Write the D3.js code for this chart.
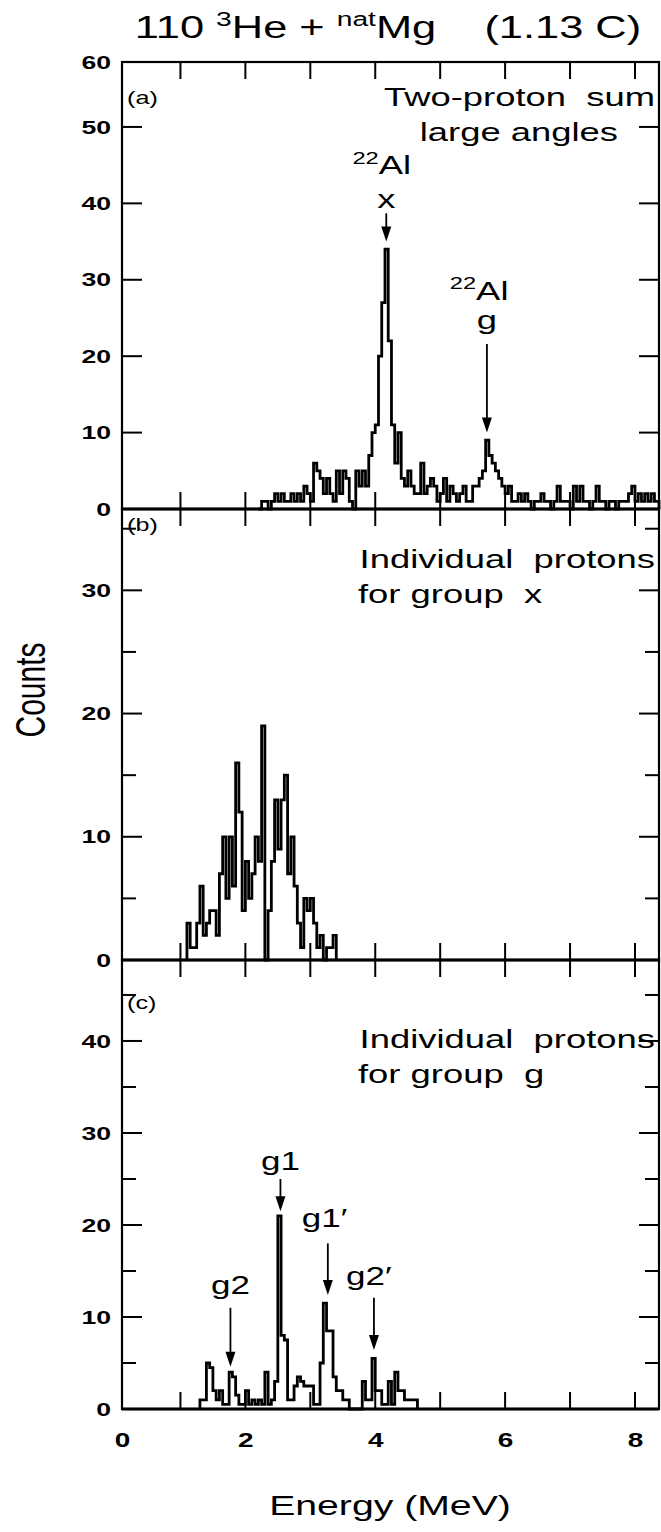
<!DOCTYPE html>
<html>
<head>
<meta charset="utf-8">
<script src="https://cdn.jsdelivr.net/npm/d3@7"></script>
<style>
  body { margin: 0; background: #fff; }
  text { font-family: "Liberation Sans", Arial, sans-serif; fill: #000; }
</style>
</head>
<body>
<svg id="chart" width="661" height="1532"></svg>
<script>
// ---- data (counts per 0.05 MeV bin) ----
const binWidth = 0.05;

// (a) two-proton sum, large angles
const sumStart = 2.20;
const sumCounts = [0,1,1,0,1,2,1,2,1,1, 2,1,2,1,3,2,1,6,5,4,
                   2,4,2,1,5,2,5,4,1,0, 5,3,5,3,7,10,11,20,27,34,
                   22,11,6,10,4,3,5,3,2,2, 6,2,3,4,3,1,2,4,1,3,
                   2,1,2,3,1,1,3,3,4,5, 9,7,6,5,4,3,2,3,1,1,
                   2,1,2,1,0,1,1,2,1,1, 0,1,3,1,1,1,0,3,1,3,
                   1,1,0,1,3,1,1,0,1,1, 0,1,1,1,2,3,1,2,1,2,
                   1,2,1,1];

// (b) individual protons for group x
const groupXStart = 1.10;
const groupXCounts = [3,1,1,3,6,2,3,4,4,2, 7,10,5,10,6,16,12,4,8,5,
                      7,10,8,19,0,4,8,13,9,13, 15,7,10,6,3,1,5,4,5,3,
                      1,2,0,1,1,2];

// (c) individual protons for group g
const groupGStart = 1.30;
const groupGCounts = [1,1,5,4.5,2,1,2,0.5,0.5,4, 3.5,1.5,0.5,0.5,2,0.5,1,0.5,1,0.5,
                      4,0.5,1,3,21,8,7.5,1,1,2.5, 3.5,3,2.5,2.5,2.5,0.5,0.5,5,11.5,8.5,
                      8.5,3.5,2,2,1,1,0,0,0,0, 3,1,1,5.5,2,2,0.5,0.5,3,0.5,
                      4,2,2,1,1,1,1];

const energyRange = [0.1, 8.37];
const energyTicks = [1, 2, 3, 4, 5, 6, 7, 8];
const energyLabels = [0, 2, 4, 6, 8];

// ---- layout ----
const frameLeft = 122, frameRight = 659;
const textStretch = 1.4;   // the scanned figure is wider than tall

const panels = [
  {id: "a", top: 62, bottom: 509, yMax: 58.5, labels: [0, 10, 20, 30, 40, 50], topLabel: "60",
   major: [10, 20, 30, 40, 50], minor: [], start: sumStart, counts: sumCounts},
  {id: "b", top: 509, bottom: 960, yMax: 36.6, labels: [0, 10, 20, 30], topLabel: null,
   major: [10, 20, 30], minor: [5, 15, 25, 35], start: groupXStart, counts: groupXCounts},
  {id: "c", top: 960, bottom: 1409, yMax: 48.8, labels: [0, 10, 20, 30, 40], topLabel: null,
   major: [10, 20, 30, 40], minor: [5, 15, 25, 35, 45], start: groupGStart, counts: groupGCounts}
];

const svg = d3.select("#chart");
const x = d3.scaleLinear().domain(energyRange).range([frameLeft, frameRight]).clamp(true);

// text widened like the original print
function stretchedText(parent, px, py, anchor, size, parts, weight) {
  const t = parent.append("g")
      .attr("transform", `translate(${px},${py}) scale(${textStretch},1)`)
    .append("text")
      .attr("text-anchor", anchor)
      .attr("font-size", size)
      .attr("font-weight", weight || "normal")
      .style("white-space", "pre");
  let shift = 0;
  parts.forEach(part => {
    const s = typeof part === "string" ? part : part.sup;
    const want = typeof part === "string" ? 0 : -size * 0.4;
    t.append("tspan")
      .attr("dy", want - shift)
      .attr("font-size", typeof part === "string" ? size : size * 0.65)
      .text(s);
    shift = want;
  });
  return t;
}

function arrow(parent, ax, y1, y2) {
  const head = 15, half = 5;
  parent.append("line")
    .attr("x1", ax).attr("x2", ax).attr("y1", y1).attr("y2", y2 - head + 2)
    .attr("stroke", "#000").attr("stroke-width", 1.8);
  parent.append("path")
    .attr("d", `M${ax - half},${y2 - head} L${ax + half},${y2 - head} L${ax},${y2} Z`)
    .attr("fill", "#000");
}

// inward tick marks drawn as plain lines
function tickLines(parent, data, attrs) {
  parent.append("g").selectAll("line").data(data).join("line")
    .attr("x1", attrs.x1).attr("x2", attrs.x2)
    .attr("y1", attrs.y1).attr("y2", attrs.y2)
    .attr("stroke", "#000").attr("stroke-width", 2);
}

panels.forEach(p => {
  const y = d3.scaleLinear().domain([0, p.yMax]).range([p.bottom, p.top]);
  p.y = y;
  const g = svg.append("g").attr("id", "panel-" + p.id);

  // energy ticks on top and bottom edges
  tickLines(g, energyTicks, {x1: d => x(d), x2: d => x(d), y1: p.top, y2: p.top + 17});
  tickLines(g, energyTicks, {x1: d => x(d), x2: d => x(d), y1: p.bottom, y2: p.bottom - 17});

  // count ticks, left and right
  tickLines(g, p.major, {x1: frameLeft, x2: frameLeft + 20, y1: d => y(d), y2: d => y(d)});
  tickLines(g, p.major, {x1: frameRight, x2: frameRight - 20, y1: d => y(d), y2: d => y(d)});
  tickLines(g, p.minor, {x1: frameLeft, x2: frameLeft + 14, y1: d => y(d), y2: d => y(d)});
  tickLines(g, p.minor, {x1: frameRight, x2: frameRight - 14, y1: d => y(d), y2: d => y(d)});

  // count labels
  const labelVals = p.topLabel ? p.labels.concat([p.yMax]) : p.labels;
  const ly = g.append("g").attr("transform", `translate(${frameLeft},0)`)
    .call(d3.axisLeft(y).tickValues(labelVals).tickSize(0).tickPadding(0)
      .tickFormat(d => d === p.yMax ? p.topLabel : d));
  ly.select(".domain").remove();
  ly.selectAll("text")
    .attr("x", -11 / textStretch)
    .attr("transform", `scale(${textStretch},1)`)
    .attr("font-size", 19).attr("font-weight", "bold")
    .attr("font-family", "'Liberation Sans', Arial, sans-serif");

  // histogram
  const pts = [[p.start, 0]]
    .concat(p.counts.map((c, i) => [p.start + i * binWidth, c]))
    .concat([[p.start + p.counts.length * binWidth, 0]]);
  const line = d3.line().x(d => x(d[0])).y(d => y(d[1])).curve(d3.curveStepAfter);
  g.append("path").attr("d", line(pts))
    .attr("fill", "none").attr("stroke", "#000")
    .attr("stroke-width", 2.8).attr("stroke-linejoin", "miter");

  // zero line
  g.append("line")
    .attr("x1", frameLeft).attr("x2", frameRight)
    .attr("y1", y(0)).attr("y2", y(0))
    .attr("stroke", "#000").attr("stroke-width", 3);

  // frame
  g.append("rect")
    .attr("x", frameLeft).attr("y", p.top)
    .attr("width", frameRight - frameLeft).attr("height", p.bottom - p.top)
    .attr("fill", "none").attr("stroke", "#000").attr("stroke-width", 2.2);
});

// energy labels under the bottom panel
const last = panels[2];
const xl = svg.append("g").attr("transform", `translate(0,${last.bottom})`)
  .call(d3.axisBottom(x).tickValues(energyLabels).tickSize(0).tickPadding(0));
xl.select(".domain").remove();
xl.selectAll(".tick text")
  .attr("y", 38).attr("dy", 0)
  .attr("transform", `scale(${textStretch},1)`)
  .attr("font-size", 20).attr("font-weight", "bold")
  .attr("font-family", "'Liberation Sans', Arial, sans-serif");

// titles
stretchedText(svg, 388, 38, "middle", 31, ["110 ", {sup: "3"}, "He + ", {sup: "nat"}, "Mg    (1.13 C)"]);
stretchedText(svg, 390, 1515, "middle", 28, ["Energy (MeV)"]);
svg.append("g").attr("transform", `translate(45,690) scale(${textStretch},1) rotate(-90)`)
  .append("text").attr("text-anchor", "middle").attr("font-size", 30).text("Counts");

// panel (a) notes
const [pa, pb, pc] = panels;
stretchedText(svg, 127, 104, "start", 18, ["(a)"]);
stretchedText(svg, 655, 106, "end", 26, ["Two-proton  sum"]);
stretchedText(svg, 618, 141, "end", 26, ["large angles"]);
stretchedText(svg, x(4.1), pa.y(43.8), "middle", 26, [{sup: "22"}, "Al"]);
stretchedText(svg, x(4.17), pa.y(39.4), "middle", 26, ["x"]);
arrow(svg, x(4.17), pa.y(38.7), pa.y(35));
stretchedText(svg, x(5.6), pa.y(27.4), "middle", 26, [{sup: "22"}, "Al"]);
stretchedText(svg, x(5.72), pa.y(23.6), "middle", 26, ["g"]);
arrow(svg, x(5.72), pa.y(21.6), pa.y(10));

// panel (b) notes
stretchedText(svg, 127, 531, "start", 18, ["(b)"]);
stretchedText(svg, 655, 568, "end", 26, ["Individual  protons"]);
stretchedText(svg, 358, 603, "start", 26, ["for group  x"]);

// panel (c) notes
stretchedText(svg, 127, 1009, "start", 18, ["(c)"]);
stretchedText(svg, 655, 1048, "end", 26, ["Individual  protons"]);
stretchedText(svg, 358, 1083, "start", 26, ["for group  g"]);
stretchedText(svg, x(2.54), pc.y(26), "middle", 25, ["g1"]);
arrow(svg, x(2.54), pc.y(25), pc.y(21.5));
stretchedText(svg, x(3.22), pc.y(19.8), "middle", 25, ["g1\u2032"]);
arrow(svg, x(3.27), pc.y(18), pc.y(12.4));
stretchedText(svg, x(1.77), pc.y(12.5), "middle", 25, ["g2"]);
arrow(svg, x(1.77), pc.y(11), pc.y(4.6));
stretchedText(svg, x(3.9), pc.y(13.5), "middle", 25, ["g2\u2032"]);
arrow(svg, x(3.98), pc.y(12.1), pc.y(6.4));
</script>
</body>
</html>
